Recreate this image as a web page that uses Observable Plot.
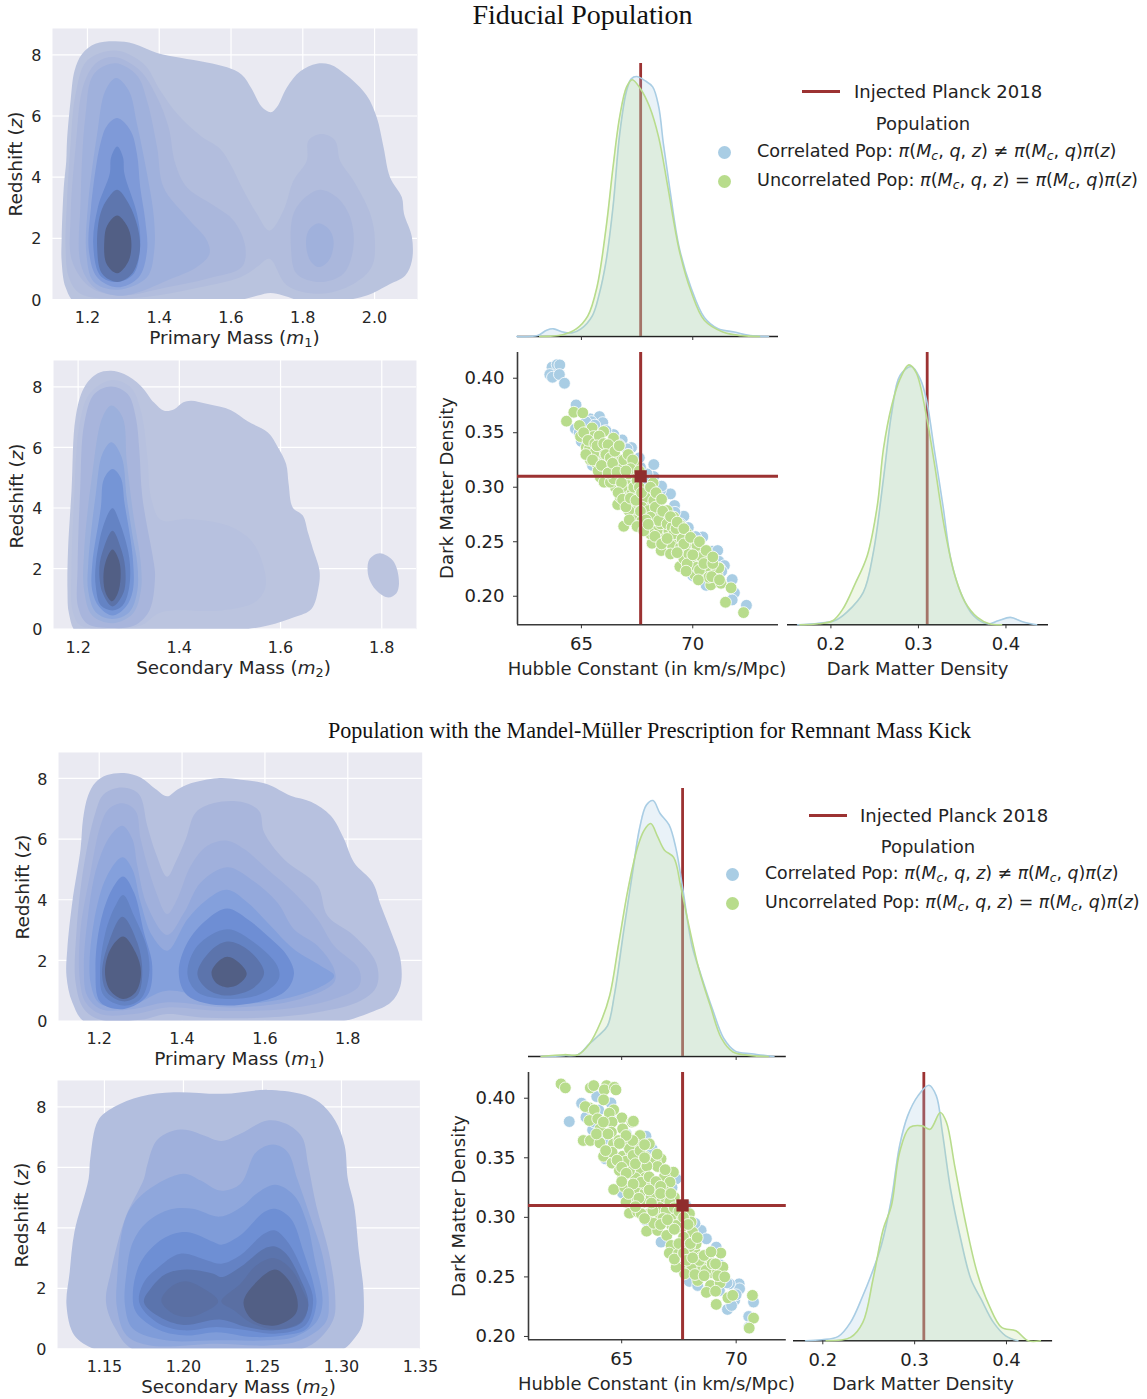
<!DOCTYPE html>
<html><head><meta charset="utf-8">
<script src="https://cdn.jsdelivr.net/npm/d3@7"></script>
<script src="https://cdn.jsdelivr.net/npm/@observablehq/plot@0.6"></script>
<style>
html,body{margin:0;padding:0;background:#fff}
#page{position:relative;width:1147px;height:1399px;overflow:hidden;font-family:"DejaVu Sans",sans-serif;color:#262626}
.t{position:absolute;white-space:nowrap;transform:translate(-50%,-50%);line-height:1}
.l{position:absolute;white-space:nowrap;transform:translateY(-50%);line-height:1;font-size:18px;color:#222}
.t i,.l i{font-style:italic}
sub{font-size:.7em;line-height:0;vertical-align:-.25em}
.serif{font-family:"Liberation Serif",serif;color:#111}
</style></head><body><div id="page"></div>
<script>
// ---------- Shared values ----------
const planckH0 = 67.66, planckOm = 0.31;
const popBlue = "#a9cde4", popGreen = "#b8dc8c", planckRed = "#9c3232";
const gridBg = "#eaeaf2";
const titles = ["Fiducial Population", "Population with the Mandel-Müller Prescription for Remnant Mass Kick"];

// ---------- Filled density levels: [mass, redshift] outlines ----------
const rampA = ["#b9c3de","#b2bddd","#aab7dc","#a0b1dc","#93a9dc","#7f9ad8","#6a8ace","#5e76ae","#525f85"];
const rampB = ["#bbc4df","#b7c1df","#a8b5dc","#9cb0dc","#8ca6dc","#7595d6","#6483c4","#5b72a8","#525f85"];
const rampC = ["#b7c1df","#a9b6dc","#a0b0dc","#94a9dc","#84a0dc","#6e8ed4","#6483c4","#5c74ac","#525f85"];
const rampD = ["#b2bede","#9fb0dc","#8fa7dc","#7f9cd9","#6e8fd4","#6482c4","#5b74ad","#5a6fa3","#525f85"];

const a0=[[1.17,-.15],[1.139,.4],[1.128,1.27],[1.128,1.93],[1.134,3.67],[1.141,4.54],[1.143,5.2],[1.153,6.5],[1.164,7.48],[1.185,8.03],[1.222,8.36],[1.278,8.44],[1.329,8.36],[1.394,8.06],[1.459,7.9],[1.533,7.75],[1.589,7.59],[1.63,7.35],[1.658,6.88],[1.686,6.29],[1.711,6.12],[1.728,6.29],[1.756,6.94],[1.793,7.46],[1.839,7.71],[1.876,7.68],[1.923,7.32],[1.978,6.67],[2.006,5.96],[2.025,4.98],[2.043,4],[2.076,3.34],[2.082,2.8],[2.104,2.04],[2.104,1.27],[2.085,.78],[2.043,.51],[1.978,.13],[1.923,-.02],[1.87,-.1],[1.79,-.03],[1.745,.13],[1.71,.21],[1.675,.13],[1.625,-.02],[1.55,-.15],[1.3,-.2]];
const a1=[[1.278,8.14],[1.357,7.7],[1.403,6.83],[1.45,6.07],[1.514,5.36],[1.57,4.92],[1.598,4.43],[1.635,3.56],[1.672,2.8],[1.707,2.25],[1.746,2.91],[1.774,3.89],[1.811,4.54],[1.816,5.2],[1.853,5.41],[1.89,5.2],[1.904,4.54],[1.941,3.89],[1.988,2.8],[2.001,1.93],[1.992,1.06],[1.941,.51],[1.848,.19],[1.756,.46],[1.707,1.33],[1.672,1.06],[1.626,.73],[1.514,.4],[1.394,.13],[1.278,.02],[1.18,.19],[1.148,.73],[1.139,1.71],[1.143,3.24],[1.153,5.09],[1.167,6.72],[1.199,7.81]];
const a2=[[1.278,7.92],[1.347,7.48],[1.394,6.61],[1.426,5.63],[1.445,4.43],[1.477,3.67],[1.552,3.07],[1.607,2.58],[1.64,1.71],[1.63,1.06],[1.533,.68],[1.422,.4],[1.292,.13],[1.208,.4],[1.157,1.27],[1.153,2.69],[1.167,4.98],[1.19,7.05],[1.227,7.76]];
const a2r=[[1.848,3.59],[1.895,3.34],[1.932,2.69],[1.941,1.71],[1.913,.84],[1.848,.57],[1.783,.84],[1.767,1.71],[1.774,2.8],[1.807,3.34]];
const a3=[[1.278,7.72],[1.338,7.32],[1.366,6.5],[1.394,4.98],[1.412,3.67],[1.477,2.69],[1.533,1.93],[1.54,1.49],[1.505,1.06],[1.422,.62],[1.329,.19],[1.278,.13],[1.218,.4],[1.181,1.17],[1.181,3.24],[1.194,5.96],[1.218,7.37]];
const a3r=[[1.844,2.49],[1.876,2.25],[1.886,1.82],[1.872,1.27],[1.844,1.06],[1.821,1.27],[1.809,1.82],[1.816,2.25]];
const a4=[[1.28,7.24],[1.315,6.83],[1.338,5.74],[1.366,4.11],[1.385,2.69],[1.386,1.6],[1.366,.73],[1.283,.32],[1.218,.57],[1.197,1.49],[1.201,3.02],[1.227,5.41],[1.25,6.83]];
const a5=[[1.283,5.93],[1.32,5.52],[1.338,4.76],[1.347,3.67],[1.361,2.58],[1.366,1.6],[1.343,.73],[1.283,.4],[1.227,.73],[1.204,1.6],[1.21,3.02],[1.236,5.09],[1.255,5.69]];
const a6=[[1.283,5],[1.299,4.65],[1.303,4.11],[1.338,2.8],[1.347,1.82],[1.329,.84],[1.283,.57],[1.236,.78],[1.216,1.82],[1.229,3.02],[1.262,4.11],[1.266,4.65]];
const a7=[[1.283,3.59],[1.315,3.13],[1.34,2.36],[1.346,1.6],[1.324,.84],[1.283,.57],[1.241,.84],[1.227,1.71],[1.236,2.8],[1.259,3.34]];
const a8=[[1.283,2.75],[1.31,2.42],[1.322,1.93],[1.315,1.27],[1.283,.86],[1.253,1.17],[1.247,1.93],[1.255,2.42]];
const fidPrimary=[[0,a0],[1,a1],[2,a2],[2,a2r],[3,a3],[3,a3r],[4,a4],[5,a5],[6,a6],[7,a7],[8,a8]];

const b0=[[1.2,-.15],[1.182,.51],[1.179,1.27],[1.18,2.59],[1.187,4.57],[1.195,6.99],[1.212,7.98],[1.238,8.44],[1.265,8.53],[1.291,8.42],[1.324,8.03],[1.35,7.48],[1.37,7.21],[1.39,7.26],[1.407,7.48],[1.423,7.54],[1.456,7.43],[1.502,7.23],[1.535,6.86],[1.575,6.49],[1.595,6],[1.611,5.45],[1.616,4.79],[1.624,4.02],[1.644,3.75],[1.654,3.2],[1.664,2.65],[1.677,1.93],[1.675,1.38],[1.661,.67],[1.628,.4],[1.575,.12],[1.509,-.05],[1.4,-.2]];
const b0r=[[1.796,2.51],[1.819,2.32],[1.829,2.04],[1.834,1.49],[1.829,1.19],[1.813,1.05],[1.793,1.22],[1.778,1.55],[1.772,1.93],[1.776,2.32]];
const b1=[[1.265,8.22],[1.304,7.98],[1.324,7.21],[1.337,5.67],[1.344,4.35],[1.364,3.6],[1.417,3.64],[1.496,3.42],[1.542,2.92],[1.565,2.15],[1.57,1.38],[1.549,.89],[1.483,.62],[1.364,.56],[1.324,.12],[1.265,.04],[1.205,.12],[1.189,.62],[1.187,2.04],[1.192,4.24],[1.202,6.66],[1.222,7.76]];
const b2=[[1.265,8.01],[1.298,7.76],[1.314,6.99],[1.321,5.9],[1.327,4.35],[1.35,2.15],[1.352,1.72],[1.341,.62],[1.311,.12],[1.265,.04],[1.218,.18],[1.2,.73],[1.199,2.04],[1.204,4.57],[1.212,6.77],[1.232,7.76]];
const b3=[[1.266,7.38],[1.288,6.99],[1.296,5.56],[1.308,3.91],[1.324,2.15],[1.324,1.27],[1.308,.51],[1.268,.2],[1.228,.45],[1.212,1.27],[1.212,2.59],[1.228,5.12],[1.248,6.99]];
const b4=[[1.266,6.17],[1.286,5.68],[1.296,4.35],[1.308,3.04],[1.317,2.15],[1.317,1.27],[1.301,.56],[1.268,.34],[1.235,.56],[1.22,1.27],[1.22,2.15],[1.235,4.47],[1.248,5.79]];
const b5=[[1.268,5.29],[1.284,5.01],[1.292,4.13],[1.308,2.37],[1.308,1.27],[1.294,.73],[1.268,.45],[1.242,.73],[1.228,1.27],[1.228,2.15],[1.245,4.02],[1.251,4.96]];
const b6=[[1.268,3.99],[1.281,3.58],[1.301,2.37],[1.301,1.39],[1.288,.78],[1.268,.62],[1.245,.78],[1.235,1.39],[1.235,2.15],[1.251,3.47]];
const b7=[[1.268,3.25],[1.284,2.7],[1.293,2.04],[1.29,1.22],[1.268,.75],[1.248,1.22],[1.242,2.04],[1.251,2.7]];
const b8=[[1.268,2.63],[1.281,2.26],[1.284,1.71],[1.278,1.17],[1.267,.92],[1.255,1.17],[1.25,1.71],[1.255,2.26]];
const fidSecondary=[[0,b0],[0,b0r],[1,b1],[2,b2],[3,b3],[4,b4],[5,b5],[6,b6],[7,b7],[8,b8]];

const c0=[[1.167,-.05],[1.135,.62],[1.121,1.49],[1.123,2.37],[1.135,3.91],[1.155,5.67],[1.161,6.66],[1.173,7.43],[1.191,7.87],[1.219,8.11],[1.26,8.18],[1.3,8.03],[1.336,7.65],[1.364,7.41],[1.388,7.63],[1.421,7.84],[1.485,8.01],[1.542,7.96],[1.606,7.81],[1.662,7.43],[1.711,7.23],[1.759,6.77],[1.791,6],[1.815,5.23],[1.86,4.57],[1.88,3.8],[1.908,2.81],[1.927,2.04],[1.927,1.16],[1.904,.62],[1.856,.29],[1.783,-.02],[1.6,-.2],[1.3,-.2]];
const c1=[[1.256,7.7],[1.296,7.48],[1.316,6.44],[1.336,5.56],[1.364,4.76],[1.384,5.23],[1.409,6],[1.433,6.88],[1.477,7.19],[1.542,7.23],[1.586,6.93],[1.598,6.22],[1.646,5.34],[1.727,4.46],[1.751,3.47],[1.815,2.81],[1.868,1.93],[1.87,1.16],[1.831,.67],[1.727,.29],[1.606,.12],[1.445,.12],[1.364,.23],[1.3,.04],[1.203,.04],[1.163,.4],[1.143,1.27],[1.145,2.92],[1.163,5.12],[1.191,6.88],[1.211,7.48]];
const c2=[[1.256,7.18],[1.288,6.93],[1.3,6],[1.336,4.3],[1.364,3.53],[1.388,4.02],[1.421,5.12],[1.461,5.78],[1.509,5.95],[1.55,5.67],[1.606,5.01],[1.67,4.24],[1.727,3.36],[1.767,2.48],[1.827,1.71],[1.827,1.16],[1.767,.73],[1.646,.4],[1.485,.34],[1.364,.45],[1.284,.23],[1.203,.23],[1.167,.62],[1.153,1.38],[1.155,3.03],[1.179,4.9],[1.203,6.44],[1.223,6.99]];
const c3=[[1.256,6.44],[1.28,6],[1.292,5.12],[1.316,3.8],[1.364,2.84],[1.405,3.58],[1.445,4.57],[1.509,5.07],[1.566,4.68],[1.63,3.91],[1.67,3.03],[1.727,2.48],[1.767,1.71],[1.767,1.27],[1.686,.73],[1.525,.45],[1.364,.62],[1.284,.4],[1.203,.4],[1.171,.84],[1.163,1.71],[1.173,3.47],[1.195,5.12],[1.227,6.11]];
const c4=[[1.256,5.4],[1.28,5.01],[1.3,3.91],[1.328,2.81],[1.364,2.32],[1.413,3.36],[1.461,4.02],[1.509,4.33],[1.558,3.91],[1.606,3.25],[1.67,2.37],[1.735,1.82],[1.767,1.49],[1.703,.95],[1.525,.56],[1.364,1],[1.284,.56],[1.203,.56],[1.179,1.27],[1.187,3.25],[1.219,4.79]];
const c5=[[1.258,4.77],[1.284,4.24],[1.308,2.92],[1.328,1.82],[1.316,.84],[1.26,.4],[1.203,.62],[1.191,1.71],[1.203,3.25],[1.231,4.35]];
const c5r=[[1.509,3.71],[1.558,3.36],[1.606,2.81],[1.654,2.15],[1.67,1.55],[1.646,.95],[1.509,.51],[1.413,.84],[1.392,1.6],[1.413,2.59],[1.461,3.36]];
const c6=[[1.258,4.16],[1.284,3.47],[1.316,2.37],[1.32,1.49],[1.3,.73],[1.258,.51],[1.211,.84],[1.202,1.6],[1.215,2.92],[1.239,3.8]];
const c6r=[[1.509,3.03],[1.574,2.59],[1.63,1.82],[1.633,1.38],[1.59,.89],[1.509,.73],[1.437,.95],[1.413,1.55],[1.437,2.48]];
const c7=[[1.256,3.44],[1.292,2.59],[1.304,1.6],[1.292,.84],[1.258,.65],[1.219,.95],[1.207,1.6],[1.223,2.59]];
const c7r=[[1.509,2.62],[1.562,2.32],[1.598,1.6],[1.574,1.11],[1.509,.84],[1.461,1.05],[1.437,1.55],[1.465,2.26]];
const c8=[[1.258,2.79],[1.288,2.26],[1.301,1.6],[1.288,.95],[1.258,.73],[1.227,1],[1.214,1.6],[1.227,2.37]];
const c8r=[[1.509,2.12],[1.537,1.93],[1.556,1.55],[1.537,1.22],[1.509,1.11],[1.481,1.27],[1.471,1.6],[1.485,1.93]];
const mmPrimary=[[0,c0],[1,c1],[2,c2],[3,c3],[4,c4],[5,c5],[5,c5r],[6,c6],[6,c6r],[7,c7],[7,c7r],[8,c8],[8,c8r]];

const d0=[[1.144,-.02],[1.131,.44],[1.126,1.43],[1.128,2.53],[1.131,3.86],[1.14,5.62],[1.141,6.28],[1.146,7.55],[1.156,7.99],[1.173,8.34],[1.194,8.48],[1.225,8.43],[1.253,8.56],[1.274,8.43],[1.286,8.15],[1.296,7.55],[1.302,6.72],[1.304,5.62],[1.308,4.74],[1.311,3.2],[1.314,1.87],[1.313,.77],[1.308,.33],[1.301,-.02],[1.28,-.2],[1.16,-.2]];
const d1=[[1.177,6.06],[1.183,6.89],[1.194,7.22],[1.204,7.22],[1.213,7.05],[1.224,6.87],[1.236,7.11],[1.253,7.55],[1.265,7.44],[1.275,7],[1.279,6.06],[1.284,4.74],[1.292,3.2],[1.296,1.76],[1.295,.99],[1.286,.33],[1.274,-.02],[1.22,-.15],[1.168,-.02],[1.157,.66],[1.151,1.54],[1.154,2.53],[1.163,4.3],[1.175,5.62]];
const d2=[[1.164,4.41],[1.177,5.23],[1.2,5.79],[1.211,5.56],[1.223,5.23],[1.236,5.45],[1.246,6.5],[1.257,6.75],[1.266,6.5],[1.272,5.62],[1.28,4.41],[1.288,3.09],[1.292,1.54],[1.29,.88],[1.274,.28],[1.253,.11],[1.221,.17],[1.179,.11],[1.164,.44],[1.158,1.32],[1.158,2.31]];
const d3=[[1.168,3.53],[1.177,4.19],[1.192,4.61],[1.206,4.63],[1.223,4.37],[1.238,4.74],[1.246,5.12],[1.258,5.42],[1.27,5.07],[1.278,4.19],[1.283,2.98],[1.288,1.54],[1.284,.88],[1.27,.39],[1.253,.28],[1.221,.28],[1.189,.28],[1.168,.66],[1.163,1.43],[1.164,2.53]];
const d4=[[1.173,2.87],[1.187,3.64],[1.202,3.86],[1.219,3.53],[1.224,3.44],[1.236,3.75],[1.251,4.52],[1.258,4.63],[1.268,4.3],[1.276,3.2],[1.283,1.98],[1.284,1.43],[1.278,.66],[1.263,.44],[1.244,.39],[1.221,.55],[1.202,.44],[1.185,.61],[1.17,1.21],[1.168,1.87]];
const d5=[[1.183,2.64],[1.198,3.14],[1.215,2.92],[1.224,2.81],[1.236,3.09],[1.251,3.8],[1.258,3.91],[1.266,3.53],[1.275,2.64],[1.282,1.65],[1.277,.77],[1.258,.5],[1.24,.61],[1.221,.72],[1.2,.61],[1.183,.88],[1.172,1.54],[1.175,2.2]];
const d6=[[1.189,2.48],[1.202,2.62],[1.219,2.48],[1.224,2.37],[1.236,2.7],[1.251,3.31],[1.258,3.38],[1.265,3.14],[1.274,2.31],[1.279,1.54],[1.275,.88],[1.258,.61],[1.24,.72],[1.223,.97],[1.2,.79],[1.185,1.05],[1.175,1.54],[1.18,2.04]];
const d7l=[[1.186,1.6],[1.192,2.04],[1.201,2.23],[1.211,2.04],[1.222,1.56],[1.211,1.16],[1.201,1.05],[1.192,1.21]];
const d7r=[[1.224,1.56],[1.236,2.15],[1.246,2.75],[1.257,3],[1.268,2.64],[1.276,1.87],[1.279,1.43],[1.274,.88],[1.258,.64],[1.242,.88],[1.232,1.27]];
const d8=[[1.258,2.62],[1.266,2.31],[1.272,1.65],[1.271,1.16],[1.258,.77],[1.244,.94],[1.238,1.54],[1.246,2.2]];
const mmSecondary=[[0,d0],[1,d1],[2,d2],[3,d3],[4,d4],[5,d5],[6,d6],[7,d7l],[7,d7r],[8,d8]];

// ---------- Marginal densities: [value, density] ----------
const fidH0Blue=[[62.1,0],[63.03,.001],[63.44,.007],[63.75,.0085],[64.16,.005],[64.57,.004],[64.98,.0085],[65.49,.023],[65.8,.047],[66.11,.084],[66.42,.144],[66.72,.225],[67.03,.273],[67.24,.286],[67.48,.2885],[67.85,.284],[68.2,.277],[68.47,.255],[68.68,.214],[68.98,.162],[69.39,.099],[69.91,.055],[70.52,.021],[71.14,.0085],[71.86,.005],[72.58,.001],[73.4,0]];
const fidH0Green=[[63.13,0],[64.16,.002],[64.77,.0085],[65.29,.023],[65.7,.055],[66.11,.121],[66.42,.188],[66.72,.244],[67.03,.277],[67.28,.285],[67.65,.275],[68.06,.255],[68.47,.221],[68.88,.166],[69.39,.096],[69.91,.051],[70.52,.018],[71.35,.005],[72.17,.001],[73,0]];
const fidOmBlue=[[.162,0],[.186,.08],[.204,.2],[.218,.62],[.237,1.62],[.2485,3.62],[.26,7.28],[.2695,10.6],[.279,12.45],[.292,12.9],[.302,12.28],[.309,11.28],[.318,8.78],[.328,5.95],[.337,3.28],[.349,1.53],[.363,.45],[.379,.05],[.391,.2],[.405,.37],[.419,.15],[.435,0]];
const fidOmGreen=[[.1646,0],[.186,.05],[.202,.2],[.2135,.78],[.2275,2.03],[.2415,3.45],[.253,5.95],[.26,8.78],[.2695,10.95],[.279,12.28],[.289,12.98],[.2974,12.6],[.309,10.45],[.318,8.12],[.33,4.78],[.3417,2.45],[.3534,1.12],[.3674,.37],[.381,.05],[.395,0]];
const mmH0Blue=[[61.49,0],[62.49,.001],[63.09,.002],[63.59,.014],[63.98,.023],[64.38,.034],[64.68,.068],[65.08,.138],[65.48,.205],[65.78,.253],[66.08,.279],[66.37,.284],[66.67,.27],[67.07,.257],[67.37,.231],[67.67,.186],[68.07,.123],[68.47,.09],[68.96,.053],[69.46,.02],[69.96,.006],[70.66,.003],[71.65,0]];
const mmH0Green=[[61.49,0],[62.49,.002],[63.09,.002],[63.59,.014],[64.08,.038],[64.48,.068],[64.88,.127],[65.28,.186],[65.68,.231],[65.98,.251],[66.27,.2585],[66.57,.244],[66.87,.229],[67.27,.221],[67.57,.19],[67.87,.153],[68.37,.097],[68.86,.057],[69.36,.02],[69.86,.005],[70.66,.001],[71.4,0]];
const mmOmBlue=[[.1813,0],[.199,.05],[.217,.22],[.2302,.92],[.2436,2.25],[.2524,3.25],[.2636,4.75],[.2747,7.08],[.2836,9.75],[.2924,11.25],[.3036,12.25],[.3156,12.78],[.3236,12.25],[.3302,10.42],[.3391,7.58],[.3502,5.08],[.3613,3.08],[.3724,2.08],[.3858,.92],[.3991,.25],[.4124,0]];
const mmOmGreen=[[.2036,0],[.2302,.17],[.2436,.92],[.2547,3.08],[.2658,5.58],[.2747,6.75],[.2836,9.42],[.2947,10.67],[.308,10.75],[.3169,10.58],[.328,11.42],[.3347,10.92],[.3436,8.75],[.3547,6.08],[.368,3.42],[.3813,1.75],[.3947,.67],[.4102,.5],[.4236,0],[.4369,0]];

// ---------- Scatter: [H0, Omega_m] ----------
const fidScatterBlue=[[64.76,.3755],[63.68,.4101],[63.91,.4125],[64.03,.4122],[63.58,.4034],[63.7,.4009],[64.01,.4034],[64.24,.3954],[65.4,.3627],[65.81,.3648],[65.96,.3593],[65.45,.3602],[64.73,.3535],[66.83,.3434],[67.25,.3364],[66.45,.3483],[68.25,.3208],[68.25,.3098],[67.05,.3352],[68.85,.2939],[69,.2939],[69.18,.2832],[69.6,.2734],[69.45,.2664],[70.45,.2544],[70.13,.2547],[70.87,.2413],[71.12,.2419],[71.17,.2321],[71.42,.2281],[71.77,.2153],[71.87,.2031],[71.77,.1966],[72.41,.1917],[70.49,.2144],[68.55,.2969],[67.95,.3122],[67.65,.3183],[65.2,.36],[65.6,.357],[66.1,.352],[66.7,.339],[67.1,.33],[67.6,.327],[68,.306],[68.6,.301],[69.2,.277],[69.8,.263],[70.3,.25],[70.8,.233],[71.2,.226],[71.3,.223],[70,.219],[70.6,.21],[64.9,.35],[65,.342],[65.5,.32],[66,.31]];
const fidScatterGreen=[[64.33,.3606],[64.66,.3688],[65.06,.3682],[64.91,.3566],[64.96,.3465],[65.22,.3367],[65.4,.3251],[65.36,.3352],[65.48,.3544],[65.55,.3465],[65.93,.3358],[66,.3511],[66.44,.345],[65.96,.3245],[65.78,.3321],[66.3,.3336],[66.57,.3199],[66.38,.3147],[66.95,.311],[67.43,.3205],[66.08,.3122],[65.85,.3092],[66.02,.3046],[66.68,.3122],[66.75,.3067],[66.53,.3],[67.02,.2963],[66.63,.2841],[67.13,.2862],[66.9,.2642],[67.35,.274],[67.72,.2618],[68.17,.2486],[68.58,.2419],[68.13,.281],[68.4,.2749],[68.73,.2694],[68.2,.267],[68.71,.2532],[69.06,.2474],[69.45,.245],[69,.2388],[69.42,.2272],[69.9,.2236],[70.09,.2196],[70.12,.2404],[69.6,.2343],[69.97,.2312],[70.37,.2297],[70.81,.2104],[71.27,.2119],[71.09,.2205],[71.17,.226],[71.72,.2077],[71.47,.1945],[72.28,.185],[68.22,.304],[67.2,.3046],[67.5,.2939],[67.8,.2847],[68.02,.2908],[68.47,.2847],[68.85,.2786],[69.15,.2725],[69.45,.2648],[69.75,.2572],[69.37,.2541],[69.9,.245],[70.34,.2419],[70.64,.2343],[68.92,.2602],[68.4,.2602],[68.1,.2572],[68.55,.2664],[67.87,.2755],[67.57,.2817],[67.13,.2786],[67.35,.2694],[67.72,.2694],[66.75,.2908],[66.98,.3183],[66.6,.326],[66.98,.326],[66.15,.3214],[66.3,.3046],[65.7,.3214],[65.55,.3306],[67.43,.3107],[67.95,.2969],[68.17,.2954],[67.87,.2908],[68.25,.2878],[67.72,.2817],[68.02,.2786],[68.32,.2817],[68.1,.2725],[68.47,.2694],[68.85,.2664],[69.07,.2633],[69.15,.2572],[69.52,.2526],[69.67,.2465],[70.19,.2465],[69.82,.2388],[70.42,.2358],[70.79,.2266],[70.57,.2236],[70.72,.2174],[70.19,.2266],[69.75,.2297],[66.98,.3031],[67.28,.2969],[66.83,.3],[66.45,.3076],[67.13,.3122],[66.75,.3183],[65.1,.35],[65.3,.343],[65.6,.34],[65.8,.347],[65.7,.338],[65.2,.33],[65.5,.325],[65.75,.315],[66,.34],[66.2,.339],[66.1,.33],[65.9,.32],[66.3,.327],[66.5,.333],[66.7,.338],[66.2,.313],[66.4,.322],[66.6,.314],[66.9,.325],[67.1,.33],[67.3,.325],[67.2,.317],[67,.315],[66.8,.304],[66.65,.295],[66.85,.289],[67,.282],[67.2,.29],[67.35,.3],[67.5,.306],[67.6,.3],[67.45,.288],[67.7,.295],[67.65,.278],[67.9,.27],[67.15,.27],[67.5,.264],[67.8,.26],[68,.266],[68.3,.255],[68.6,.248],[68.85,.253],[69.25,.262],[69.6,.248],[69.3,.24],[69.7,.223],[70,.238],[70.3,.224],[70.5,.23],[70.85,.218],[70.9,.23],[71.2,.215],[70.25,.215],[67.6,.315],[68.1,.3],[68.35,.295],[68.6,.289],[68.65,.278],[69,.273],[69.3,.268],[69.6,.262],[69.9,.254],[70.3,.25],[70.6,.242],[70.9,.236]];
const mmScatterBlue=[[62.71,.3804],[63.25,.3958],[64.53,.3961],[63.91,.4014],[63.73,.3734],[64.29,.3491],[66.06,.3681],[66.33,.3575],[66.72,.2792],[67.96,.2462],[68.32,.2428],[69.62,.2227],[70.13,.2442],[70.76,.2289],[70.55,.2168],[70.55,.2079],[67.38,.3323],[65.04,.3203],[69.13,.275],[69.27,.2386],[69.93,.2303],[70.15,.24],[69.71,.2442],[68.76,.2386],[63.44,.3841],[66.06,.2974],[68.47,.289],[67.52,.2582],[64,.39],[64.5,.383],[65.2,.37],[66.3,.345],[67.2,.325],[67.8,.31],[68.2,.295],[68.7,.282],[69.3,.26],[69.6,.245],[68.4,.252],[68,.256],[66.6,.305],[66.1,.32],[65,.35],[64.2,.365],[63.8,.38],[70,.235],[69.8,.226]];
const mmScatterGreen=[[62.35,.412],[62.54,.4087],[63.63,.4087],[63.78,.4106],[64.34,.4106],[64.24,.407],[64.68,.4092],[64.75,.407],[64.21,.3986],[63.59,.3919],[63.41,.393],[63.8,.3902],[64.65,.3902],[64.46,.3874],[65.01,.3835],[65.45,.3799],[65.51,.3807],[63.59,.3813],[63.95,.3827],[64.58,.3799],[65.04,.3743],[64.55,.3715],[65.8,.3687],[63.32,.3645],[63.63,.3645],[64.05,.3625],[64.64,.3617],[65.19,.3617],[65.7,.3603],[66.21,.3617],[64.21,.3513],[64.58,.3455],[65.04,.3513],[65.41,.3547],[66.02,.3511],[66.72,.3491],[66.47,.3471],[66.57,.3427],[65.41,.3435],[65.85,.3393],[67.26,.3379],[66.87,.3343],[67.11,.3295],[65.04,.3332],[66.03,.3332],[66.43,.3276],[64.65,.3234],[65.13,.3253],[65.67,.3231],[66.02,.3206],[66.43,.3203],[66.91,.3214],[65.51,.3147],[65.99,.3128],[66.53,.3161],[66.94,.3141],[67.3,.3169],[65.34,.3035],[66.5,.303],[67.01,.303],[67.38,.3016],[66.09,.2884],[66.57,.289],[67.19,.2932],[66.97,.2848],[67.64,.2918],[68.1,.2876],[67.7,.2834],[67.16,.2764],[67.08,.27],[67.48,.2694],[68.18,.2722],[68.8,.2647],[69.33,.27],[69.42,.2582],[67.67,.2582],[68.06,.2582],[68.95,.2535],[68.54,.2582],[68.32,.247],[68.88,.2428],[69.3,.2451],[69.13,.2269],[69.64,.2325],[69.85,.2345],[70.71,.2345],[70.76,.2154],[70.57,.207],[65.7,.3046],[66.21,.303],[65.19,.3128],[66.03,.3276],[65.6,.3332],[65.34,.3393],[64.9,.3393],[64.83,.3471],[65.19,.3471],[65.34,.3575],[65.48,.3645],[64.58,.3547],[64.88,.3645],[64.05,.3743],[65.19,.3687],[67.96,.303],[68.03,.2961],[68.25,.2778],[68.47,.2666],[67.96,.2751],[67.82,.2666],[68.68,.2554],[68.39,.2638],[68.95,.261],[67.75,.2526],[67.38,.2582],[66.65,.3083],[66.36,.3055],[65.85,.303],[66.29,.3176],[65.85,.3295],[66.94,.3055],[67.64,.3],[67.38,.2932],[63.9,.37],[64.2,.38],[64.4,.37],[64.9,.362],[64.3,.356],[64.8,.348],[65,.342],[65.2,.337],[65.5,.352],[65.8,.356],[65.6,.345],[66.1,.343],[66,.35],[65.5,.328],[65.3,.32],[65.75,.316],[66.2,.334],[66.5,.33],[66.7,.326],[66.2,.323],[65.6,.309],[66.3,.312],[66.7,.32],[67.1,.313],[67.15,.32],[67.3,.308],[66.8,.299],[66.4,.295],[66.7,.294],[67,.298],[67.3,.29],[67.5,.305],[67.7,.3],[67.9,.294],[67.5,.278],[67.3,.265],[67.7,.27],[68,.278],[68.3,.283],[67.85,.264],[68.1,.266],[68.6,.268],[68.9,.271],[68.2,.252],[68.6,.251],[69.1,.261],[69.2,.251],[68.7,.237],[69.1,.238],[69.5,.25],[66,.299],[66.9,.34],[66.55,.353],[66,.361],[65,.33]];

// ---------- Panel configuration (tick values) ----------
const ticksFidPrimary=[1.2,1.4,1.6,1.8,2.0], ticksFidSecondary=[1.2,1.4,1.6,1.8];
const ticksMmPrimary=[1.2,1.4,1.6,1.8], ticksMmSecondary=[1.15,1.20,1.25,1.30,1.35];
const ticksRedshift=[0,2,4,6,8];
const ticksH0=[65,70], ticksOmFid=[.20,.25,.30,.35,.40], ticksOmMarg=[.2,.3,.4];

// ---------- Helpers ----------
const page=document.getElementById("page");
function place(frame,xDom,yDom,marks,yAxisNull){
  const [x0,x1,y0,y1]=frame, pl=50,pr=22,pt=6,pb=34;
  const svg=Plot.plot({
    width:(x1-x0)+pl+pr,height:(y1-y0)+pt+pb,
    marginLeft:pl,marginRight:pr,marginTop:pt,marginBottom:pb,
    x:{domain:xDom,label:null},y:{domain:yDom,label:null,axis:yAxisNull?null:undefined},
    style:{fontFamily:'"DejaVu Sans",sans-serif',background:"transparent",overflow:"visible"},
    marks
  });
  svg.style.position="absolute";svg.style.left=(x0-pl)+"px";svg.style.top=(y0-pt)+"px";
  page.appendChild(svg);
}
function text(cls,x,y,html,size,rot){
  const e=document.createElement("div");e.className=cls;e.style.left=x+"px";e.style.top=y+"px";
  if(size)e.style.fontSize=size+"px";
  if(rot)e.style.transform="translate(-50%,-50%) rotate(-90deg)";
  e.innerHTML=html;page.appendChild(e);return e;
}
function kdePanel(frame,xDom,yDom,levels,ramp,xTicks,fmt){
  place(frame,xDom,yDom,[
    Plot.frame({fill:gridBg,stroke:"none"}),
    Plot.gridX(xTicks,{stroke:"#fff",strokeOpacity:1,strokeWidth:1.2}),
    Plot.gridY(ticksRedshift,{stroke:"#fff",strokeOpacity:1,strokeWidth:1.2}),
    ...levels.map(([k,pts])=>Plot.line(pts,{x:d=>d[0],y:d=>d[1],fill:ramp[k],stroke:"none",curve:"catmull-rom-closed",clip:true})),
    Plot.axisX({ticks:xTicks,tickSize:0,tickPadding:12,tickFormat:fmt,label:null,fontSize:16,color:"#262626"}),
    Plot.axisY({ticks:ticksRedshift,tickSize:0,tickPadding:11,dy:1,tickFormat:d=>String(d),label:null,fontSize:16,color:"#262626"})
  ]);
}
const axisSpine={stroke:"#3a3a3a",strokeWidth:1.6};
function margPanel(frame,xDom,yTop,blue,green,ref,ticks,fmt){
  place(frame,xDom,[0,yTop],[
    Plot.ruleX([ref],{stroke:planckRed,strokeWidth:2.8}),
    Plot.ruleY([0],{...axisSpine,stroke:"#222"}),
    Plot.areaY(blue,{x:d=>d[0],y:d=>d[1],fill:popBlue,fillOpacity:.25,curve:"catmull-rom"}),
    Plot.line(blue,{x:d=>d[0],y:d=>d[1],stroke:popBlue,strokeWidth:1.6,curve:"catmull-rom"}),
    Plot.areaY(green,{x:d=>d[0],y:d=>d[1],fill:popGreen,fillOpacity:.22,curve:"catmull-rom"}),
    Plot.line(green,{x:d=>d[0],y:d=>d[1],stroke:popGreen,strokeWidth:1.6,curve:"catmull-rom"}),
    Plot.axisX({ticks,tickSize:4,tickPadding:8,tickFormat:fmt,label:null,fontSize:18,color:"#222",stroke:"#333"})
  ],true);
}
function scatterPanel(frame,xDom,yDom,blue,green){
  place(frame,xDom,yDom,[
    Plot.ruleX([xDom[0]],axisSpine),
    Plot.ruleY([yDom[0]],axisSpine),
    Plot.dot(blue,{x:d=>d[0],y:d=>d[1],r:5.9,fill:popBlue,stroke:"#fff",strokeWidth:.8}),
    Plot.dot(green,{x:d=>d[0],y:d=>d[1],r:5.9,fill:popGreen,stroke:"#fff",strokeWidth:.8}),
    Plot.ruleX([planckH0],{stroke:planckRed,strokeWidth:3}),
    Plot.ruleY([planckOm],{stroke:planckRed,strokeWidth:3}),
    Plot.dot([[planckH0,planckOm]],{x:d=>d[0],y:d=>d[1],symbol:"square",r:6.9,fill:"#8f2d2d",stroke:"none"}),
    Plot.axisX({ticks:ticksH0,tickSize:4,tickPadding:8,tickFormat:d=>String(d),label:null,fontSize:18,color:"#222",stroke:"#333"}),
    Plot.axisY({ticks:ticksOmFid,tickSize:4,tickPadding:9,tickFormat:d=>d.toFixed(2),label:null,fontSize:18,color:"#222",stroke:"#333"})
  ]);
}
function legend(lineX0,lineY,textX,lineTextY,popX,popY,mx,my1,my2,tx,dy,size){
  const ln=document.createElement("div");
  ln.style.cssText=`position:absolute;left:${lineX0}px;top:${lineY-1.5}px;width:38px;height:3px;background:${planckRed}`;
  page.appendChild(ln);
  text("l",textX,lineTextY,"Injected Planck 2018");
  text("t",popX,popY,"Population",18);
  for(const [y,c] of [[my1,popBlue],[my2,popGreen]]){
    const m=document.createElement("div");
    m.style.cssText=`position:absolute;left:${mx-6.5}px;top:${y-6.5}px;width:13px;height:13px;border-radius:50%;background:${c}`;
    page.appendChild(m);
  }
  const iM='<i>π</i>(<i>M<sub>c</sub></i>, <i>q</i>, <i>z</i>)', iR='<i>π</i>(<i>M<sub>c</sub></i>, <i>q</i>)<i>π</i>(<i>z</i>)';
  text("l",tx,my1+dy,`Correlated Pop: ${iM} ≠ ${iR}`,size);
  text("l",tx,my2+dy,`Uncorrelated Pop: ${iM} = ${iR}`,size);
}

// ---------- Draw ----------
const f1=d=>d.toFixed(1), f2=d=>d.toFixed(2);
kdePanel([52,417,28,299],[1.1026,2.1196],[0,8.86],fidPrimary,rampA,ticksFidPrimary,f1);
kdePanel([52.7,415.7,360,628.7],[1.1514,1.8686],[0,8.868],fidSecondary,rampB,ticksFidSecondary,f1);
kdePanel([58,421.7,751.7,1020.3],[1.1018,1.9795],[0,8.856],mmPrimary,rampC,ticksMmPrimary,f1);
kdePanel([57.3,420,1080,1348.3],[1.1203,1.3498],[0,8.87],mmSecondary,rampD,ticksMmSecondary,f2);

margPanel([517,778,63,336],[62.13,73.85],.303,fidH0Blue,fidH0Green,planckH0,ticksH0,()=>"");
scatterPanel([517,778,352,624.3],[62.13,73.85],[.1738,.4236],fidScatterBlue,fidScatterGreen);
margPanel([787,1048,351.7,624],[.1504,.4486],13.6,fidOmBlue,fidOmGreen,planckOm,ticksOmMarg,f1);

margPanel([527.7,785.5,788,1056],[60.93,72.19],.2974,mmH0Blue,mmH0Green,planckH0,ticksH0,()=>"");
scatterPanel([527.7,785.5,1072,1339.3],[60.93,72.19],[.1972,.4216],mmScatterBlue,mmScatterGreen);
margPanel([793.3,1052.4,1071.7,1340],[.1681,.4502],13.42,mmOmBlue,mmOmGreen,planckOm,ticksOmMarg,f1);

// Titles
text("t serif",582.5,14.5,titles[0],28);
text("t serif",649.5,731,titles[1],22.1);

// Axis labels
const lab=(x,y,h,s,r)=>text("t",x,y,h,s,r);
lab(234.5,338,'Primary Mass (<i>m</i><sub>1</sub>)',18.5);
lab(16,164,'Redshift (<i>z</i>)',18.5,true);
lab(233.5,667.5,'Secondary Mass (<i>m</i><sub>2</sub>)',18.3);
lab(17,496,'Redshift (<i>z</i>)',18.5,true);
lab(239.5,1058.5,'Primary Mass (<i>m</i><sub>1</sub>)',18.5);
lab(23,887,'Redshift (<i>z</i>)',18.5,true);
lab(238.5,1387,'Secondary Mass (<i>m</i><sub>2</sub>)',18.3);
lab(22,1215,'Redshift (<i>z</i>)',18.5,true);
lab(647,669,'Hubble Constant (in km/s/Mpc)',18);
lab(447,488,'Dark Matter Density',18,true);
lab(917.5,669,'Dark Matter Density',18);
lab(656.5,1384,'Hubble Constant (in km/s/Mpc)',17.9);
lab(459,1206,'Dark Matter Density',18,true);
lab(923,1384,'Dark Matter Density',18);

legend(802,91,854,91.5,923,124,724,152,181,757,-.5,17.65);
legend(809,815,860,815.5,928,847,732,874,903,765,-.5,17.35);
</script></body></html>
